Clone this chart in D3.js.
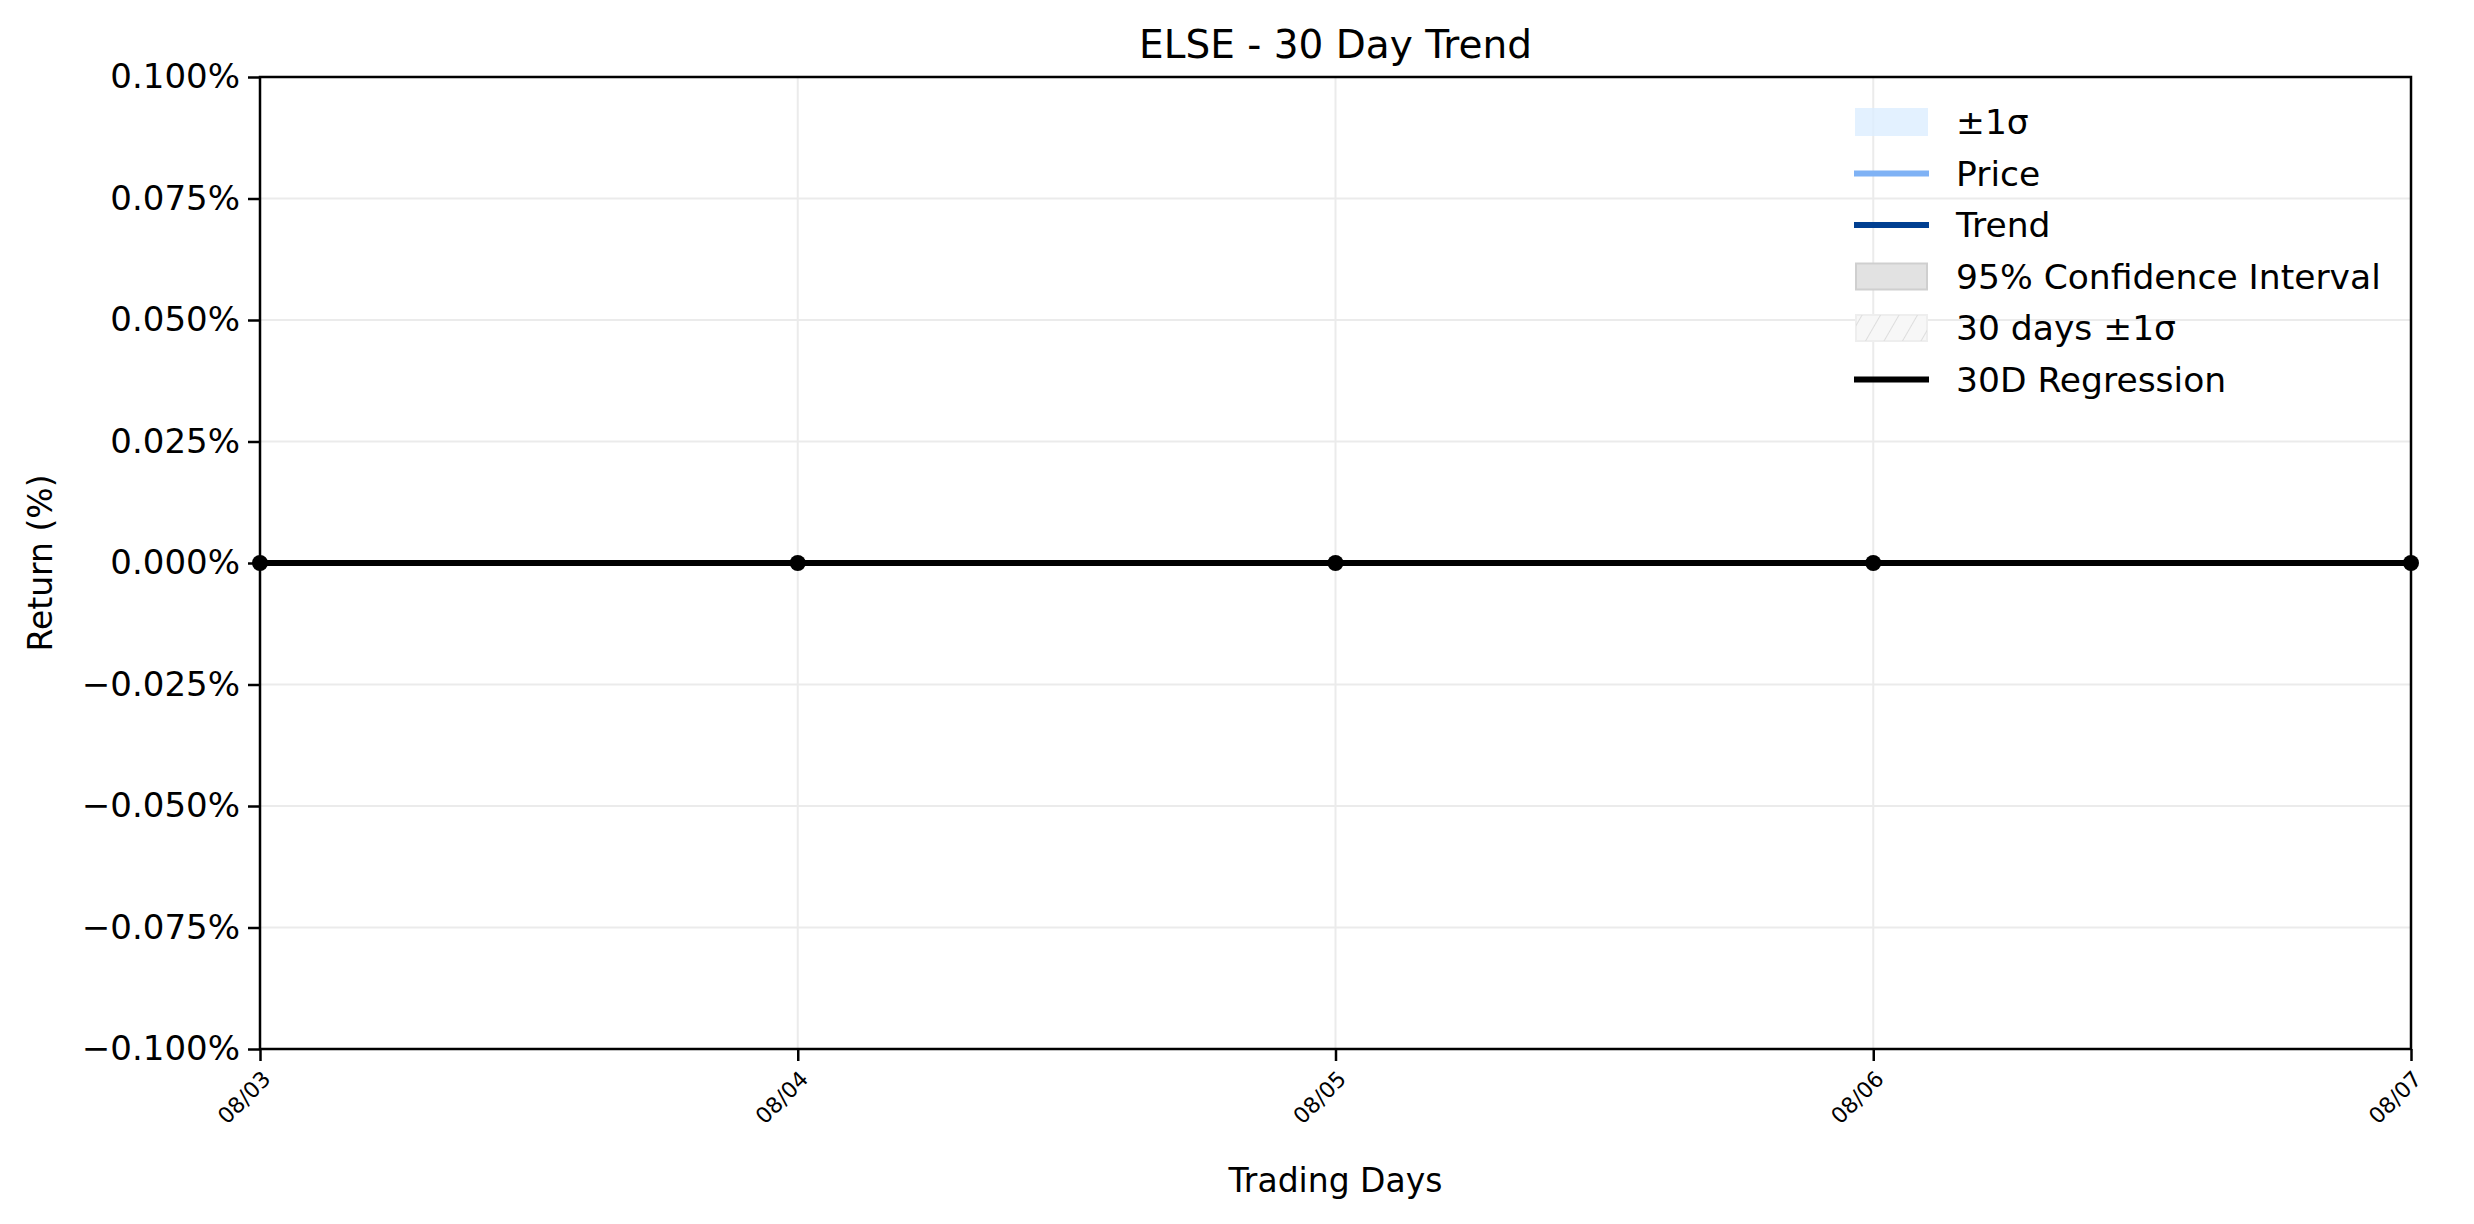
<!DOCTYPE html>
<html><head><meta charset="utf-8">
<script src="https://cdn.jsdelivr.net/npm/d3@7"></script>
<style>body{margin:0;background:#fff}text{font-family:"DejaVu Sans",sans-serif}</style>
</head><body><svg id="c" width="2474" height="1224"></svg>
<script>
const dates = ["08/03","08/04","08/05","08/06","08/07"];
const priceReturns = [0,0,0,0,0];
const trendValues = [0,0,0,0,0];
const regressionValues = [0,0,0,0,0];
const yTicks = [-0.1,-0.075,-0.05,-0.025,0,0.025,0.05,0.075,0.1];
const legendItems = [
 {label:"±1σ", type:"rect", fill:"#ddeeff", stroke:"#ddeeff", op:0.8},
 {label:"Price", type:"line", color:"#7fb2f5"},
 {label:"Trend", type:"line", color:"#003f91"},
 {label:"95% Confidence Interval", type:"rect", fill:"#e2e2e2", stroke:"#cfcfcf", op:1},
 {label:"30 days ±1σ", type:"hatch"},
 {label:"30D Regression", type:"line", color:"#000"}
];
const svg = d3.select("#c");
const L=260,R=2411,T=77,B=1049;
const x = d3.scalePoint().domain(dates).range([L,R]);
const y = d3.scaleLinear().domain([-0.1,0.1]).range([B,T]);
svg.append("g").selectAll("line").data(yTicks).join("line")
 .attr("x1",L).attr("x2",R).attr("y1",d=>y(d)).attr("y2",d=>y(d)).attr("stroke","#ebebeb").attr("stroke-width",2);
svg.append("g").selectAll("line").data(dates).join("line")
 .attr("y1",T).attr("y2",B).attr("x1",d=>x(d)).attr("x2",d=>x(d)).attr("stroke","#ebebeb").attr("stroke-width",2);
const line = d3.line().x((d,i)=>x(dates[i])).y(d=>y(d));
svg.append("path").attr("d",line(priceReturns)).attr("fill","none").attr("stroke","#7fb2f5").attr("stroke-width",6);
svg.append("path").attr("d",line(trendValues)).attr("fill","none").attr("stroke","#003f91").attr("stroke-width",6);
svg.append("path").attr("d",line(regressionValues)).attr("fill","none").attr("stroke","#000").attr("stroke-width",6);
svg.append("g").selectAll("circle").data(priceReturns).join("circle")
 .attr("cx",(d,i)=>x(dates[i])).attr("cy",d=>y(d)).attr("r",8).attr("fill","#000");
const fmt = d=>(d<0?"\u2212":"")+Math.abs(d).toFixed(3)+"%";
const ya = svg.append("g").attr("transform",`translate(${L},0)`).call(d3.axisLeft(y).tickValues(yTicks).tickFormat(fmt).tickSize(12).tickPadding(8));
ya.selectAll("text").attr("font-size",34).attr("fill","#000");
const xa = svg.append("g").attr("transform",`translate(0,${B})`).call(d3.axisBottom(x).tickSize(12));
xa.selectAll("text").attr("font-size",22).attr("fill","#000").attr("text-anchor","end")
 .attr("x",0).attr("y",0).attr("dy","0.35em").attr("transform","translate(6,26) rotate(-45)");
svg.selectAll(".domain").remove();
svg.selectAll(".tick line").attr("stroke","#000").attr("stroke-width",2.5);
svg.append("rect").attr("x",L).attr("y",T).attr("width",R-L).attr("height",B-T).attr("fill","none").attr("stroke","#000").attr("stroke-width",2.5);
svg.append("text").attr("x",(L+R)/2).attr("y",44).attr("text-anchor","middle").attr("dominant-baseline","central").attr("font-size",39).text("ELSE - 30 Day Trend");
svg.append("text").attr("x",(L+R)/2).attr("y",1180).attr("text-anchor","middle").attr("dominant-baseline","central").attr("font-size",33).text("Trading Days");
svg.append("text").attr("transform",`translate(40,${(T+B)/2}) rotate(-90)`).attr("text-anchor","middle").attr("dominant-baseline","central").attr("font-size",33).text("Return (%)");
const defs = svg.append("defs");
const pat = defs.append("pattern").attr("id","h").attr("patternUnits","userSpaceOnUse").attr("width",16).attr("height",16).attr("patternTransform","rotate(30)");
pat.append("line").attr("x1",0).attr("y1",0).attr("x2",0).attr("y2",16).attr("stroke","#ddd").attr("stroke-width",2);
const lg = svg.append("g").selectAll("g").data(legendItems).join("g").attr("transform",(d,i)=>`translate(1854,${122+i*51.5})`);
lg.each(function(d){
 const g=d3.select(this);
 if(d.type==="line") g.append("line").attr("x1",0).attr("x2",75).attr("stroke",d.color).attr("stroke-width",6);
 else if(d.type==="rect") g.append("rect").attr("x",2).attr("y",-13).attr("width",71).attr("height",26).attr("fill",d.fill).attr("stroke",d.stroke).attr("stroke-width",2).attr("opacity",d.op);
 else { g.append("rect").attr("x",2).attr("y",-13).attr("width",71).attr("height",26).attr("fill","#f7f7f7").attr("stroke","#eee").attr("stroke-width",2);
        g.append("rect").attr("x",2).attr("y",-13).attr("width",71).attr("height",26).attr("fill","url(#h)"); }
 g.append("text").attr("x",102).attr("y",0).attr("dominant-baseline","central").attr("font-size",34.5).text(d.label);
});
</script></body></html>
